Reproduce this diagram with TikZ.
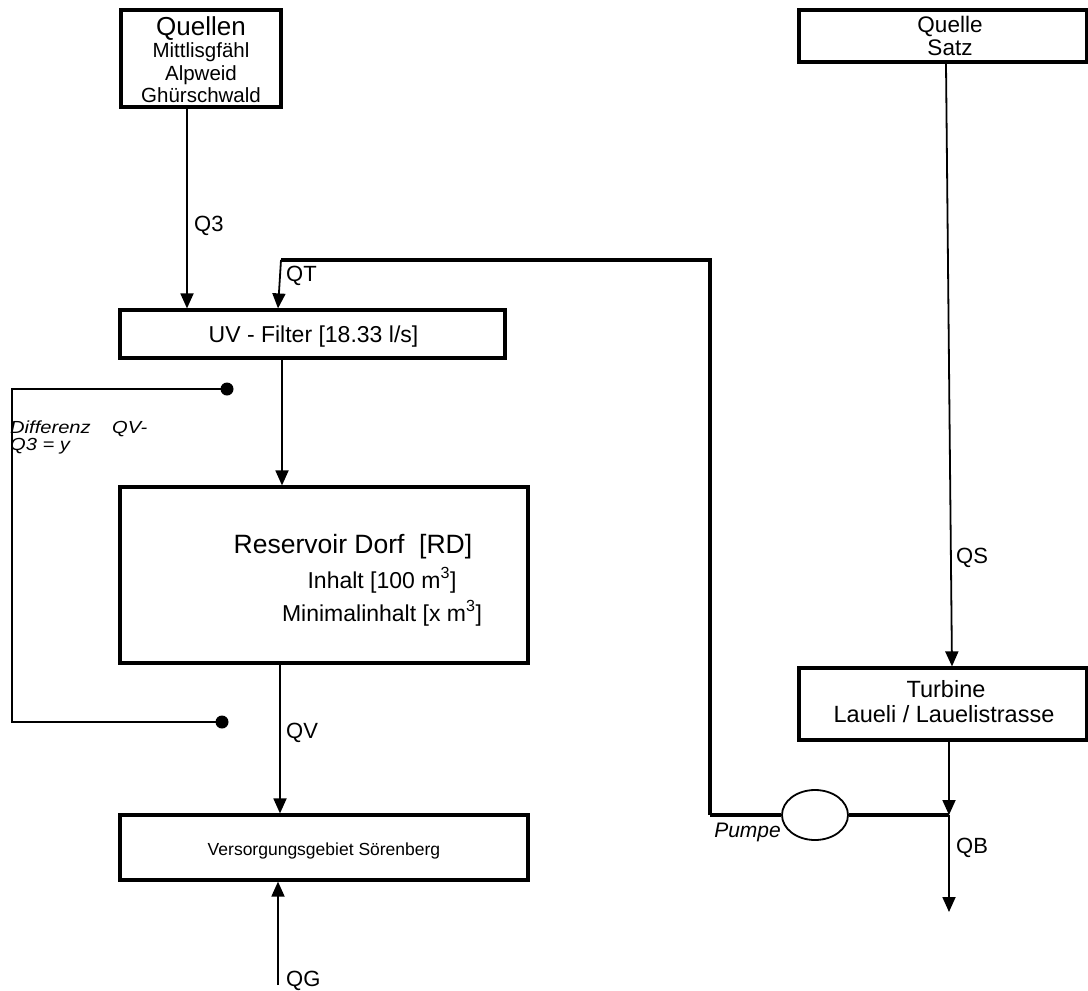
\documentclass[tikz,border=0pt]{standalone}
\usepackage{fontspec}
\setmainfont{Liberation Sans}
\newfontfamily\difffont{Liberation Sans}[FakeStretch=1.15]
\usetikzlibrary{arrows.meta,shapes.geometric}
\begin{document}
\begin{tikzpicture}[x=1pt,y=-1pt,
  box/.style={draw,line width=3.2pt,inner sep=0pt},
  txt/.style={anchor=base,inner sep=0pt},
  lbl/.style={anchor=base west,inner sep=0pt,font=\fontsize{22}{22}\selectfont},
  conn/.style={line width=1.8pt},
  arr/.style={conn,-{Triangle[width=13pt,length=15pt]}},
  pipe/.style={line width=3.6pt},
  thinline/.style={line width=1.1pt},
  dot/.style={circle,fill=black,inner sep=0pt,minimum size=13pt},
  dtxt/.style={anchor=base west,inner sep=0pt,font=\difffont\itshape\fontsize{17.5}{17.5}\selectfont}]
\fill[white] (0,0) rectangle (1088,991);
\useasboundingbox (0,0) rectangle (1088,991);

% boxes
\node[box,minimum width=160pt,minimum height=97pt] (quellen) at (201,58.5) {};
\node[box,minimum width=288pt,minimum height=52pt] (satz) at (943,36) {};
\node[box,minimum width=385pt,minimum height=48pt] (uv) at (312.5,334) {};
\node[box,minimum width=408pt,minimum height=176pt] (res) at (324,575) {};
\node[box,minimum width=408pt,minimum height=65pt] (vers) at (324,847.5) {};
\node[box,minimum width=288pt,minimum height=72pt] (turb) at (943,704) {};
\node[draw,ellipse,line width=1.8pt,fill=white,minimum width=66pt,minimum height=50pt,inner sep=0pt] (pump) at (815,815) {};

% texts
\node[txt,font=\fontsize{26}{26}\selectfont] (tq1) at (201,35) {Quellen};
\node[txt,font=\fontsize{20.5}{20.5}\selectfont] (tq2) at (201,57) {Mittlisgfähl};
\node[txt,font=\fontsize{20.5}{20.5}\selectfont] (tq3) at (201,80) {Alpweid};
\node[txt,font=\fontsize{20.5}{20.5}\selectfont] (tq4) at (201,102) {Ghürschwald};
\node[txt,font=\fontsize{22.5}{22.5}\selectfont] (ts1) at (950,32) {Quelle};
\node[txt,font=\fontsize{22.5}{22.5}\selectfont] (ts2) at (950,55) {Satz};
\node[txt,font=\fontsize{23}{23}\selectfont] (tuv) at (313.5,342) {UV - Filter [18.33 l/s]};
\node[txt,font=\fontsize{26.5}{26.5}\selectfont] (tr1) at (353,553) {Reservoir Dorf\ \ [RD]};
\node[txt,font=\fontsize{23}{23}\selectfont] (tr2) at (382,588) {Inhalt [100 m\textsuperscript{3}]};
\node[txt,font=\fontsize{23}{23}\selectfont] (tr3) at (382,621) {Minimalinhalt [x m\textsuperscript{3}]};
\node[txt,font=\fontsize{17.5}{17.5}\selectfont] (tv) at (324,855) {Versorgungsgebiet Sörenberg};
\node[txt,font=\fontsize{23.5}{23.5}\selectfont] (tt1) at (946,697) {Turbine};
\node[txt,font=\fontsize{23.5}{23.5}\selectfont] (tt2) at (944,722) {Laueli / Lauelistrasse};

% coordinates
\coordinate (q3x) at (187,0);
\coordinate (qtc) at (710,260);
\coordinate (qtk) at (281,260);
\coordinate (qtx) at (278,0);
\coordinate (uvx) at (282,0);
\coordinate (qvx) at (280,0);
\coordinate (qgx) at (278,0);
\coordinate (qgend) at (278,985);
\coordinate (pcorner) at (710,815);
\coordinate (junc) at (949,815);
\coordinate (qbend) at (949,912);
\coordinate (fbx) at (12,500);

% connectors
\draw[arr] (quellen.south -| q3x) -- (uv.north -| q3x);
\draw[pipe,line join=miter] (pcorner) -- (qtc) -- (qtk);
\draw[arr] (qtk) -- (uv.north -| qtx);
\draw[arr] (uv.south -| uvx) -- (res.north -| uvx);
\draw[arr] (res.south -| qvx) -- (vers.north -| qvx);
\draw[arr] (qgend) -- (vers.south -| qgx);
\draw[arr] ([xshift=3pt]satz.south) -- ([xshift=9pt]turb.north);
\draw[pipe] (pcorner) -- (pump.west);
\draw[pipe] (pump.east) -- (junc);
\draw[arr] (turb.south -| junc) -- (junc);
\draw[arr] (junc) -- (qbend);

% feedback
\node[dot] (d1) at (227,389) {};
\node[dot] (d2) at (222,722) {};
\draw[thinline] (d1.center) -| (fbx) |- (d2.center);

% labels
\node[lbl] (lq3) at (194,231) {Q3};
\node[lbl] (lqt) at (286,281) {QT};
\node[lbl] (lqs) at (956,563) {QS};
\node[lbl] (lqv) at (286,738) {QV};
\node[lbl] (lqb) at (956,853) {QB};
\node[lbl] (lqg) at (286,986) {QG};
\node[anchor=base east,inner sep=0pt,font=\itshape\fontsize{21}{21}\selectfont] (lp) at (781,837) {Pumpe};
\node[dtxt] (dl1) at (10,433) {Differenz};
\node[dtxt] (dl2) at (112,433) {QV-};
\node[dtxt] (dl3) at (10,450) {Q3 = y};
\end{tikzpicture}
\end{document}
